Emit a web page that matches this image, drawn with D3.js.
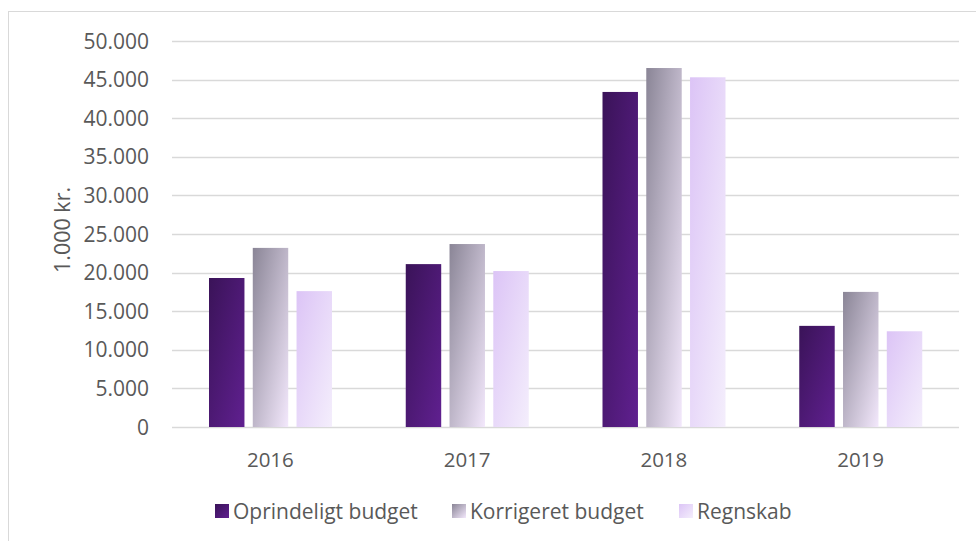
<!DOCTYPE html>
<html><head><meta charset="utf-8">
<script src="https://cdn.jsdelivr.net/npm/d3@7"></script>
<style>body{margin:0;background:#fff;}svg{display:block;}text{font-family:"Open Sans",Lato,sans-serif;fill:#595959;}</style>
</head><body>
<script>
const categories = ["2016","2017","2018","2019"];
const seriesNames = ["Oprindeligt budget","Korrigeret budget","Regnskab"];
const oprindeligt = [19300, 21100, 43400, 13100];
const korrigeret = [23200, 23700, 46500, 17500];
const regnskab = [17600, 20200, 45300, 12400];
const yTicks = [0,5000,10000,15000,20000,25000,30000,35000,40000,45000,50000];

const W=976,H=541;
const svg=d3.select("body").append("svg").attr("width",W).attr("height",H);
const defs=svg.append("defs");
const grads=[["#3a1358","#602090"],["#8a8596","#f3e8fc"],["#dcc4f6","#f4eefc"]];
grads.forEach((g,i)=>{
  const lg=defs.append("linearGradient").attr("id","g"+i).attr("x1","0").attr("y1","0").attr("x2","1").attr("y2","1");
  lg.append("stop").attr("offset","0").attr("stop-color",g[0]);
  lg.append("stop").attr("offset","1").attr("stop-color",g[1]);
});
svg.append("rect").attr("x",8.5).attr("y",11.5).attr("width",980).attr("height",560).attr("fill","none").attr("stroke","#d9d9d9");

const x=d3.scaleBand().domain(categories).range([172,959]);
const y=d3.scaleLinear().domain([0,50000]).range([427,41]);
const x1=d3.scaleBand().domain(seriesNames).range([37,160]).paddingInner(0.19);

svg.append("g").selectAll("line").data(yTicks).join("line")
  .attr("x1",172).attr("x2",959).attr("y1",d=>Math.round(y(d))+0.5).attr("y2",d=>Math.round(y(d))+0.5)
  .attr("stroke","#d9d9d9").attr("stroke-width",1.3);

const fmt=d=>d===0?"0":d3.format(",")(d).replace(/,/g,".");
svg.append("g").selectAll("text").data(yTicks).join("text")
  .attr("x",149).attr("y",d=>y(d)).attr("dy","0.36em").attr("text-anchor","end")
  .attr("font-size",21).text(fmt);

svg.append("g").selectAll("text").data(categories).join("text")
  .attr("x",d=>x(d)+x.bandwidth()/2).attr("y",460).attr("dy","0.36em").attr("text-anchor","middle")
  .attr("font-size",20.5).text(d=>d);

svg.append("text").attr("transform","translate(62,230) rotate(-90)").attr("text-anchor","middle")
  .attr("dy","0.36em").attr("font-size",21.5).text("1.000 kr.");

const data=[oprindeligt,korrigeret,regnskab];
categories.forEach((c,ci)=>{
  seriesNames.forEach((s,si)=>{
    const v=data[si][ci];
    svg.append("rect").attr("x",x(c)+x1(s)).attr("width",x1.bandwidth())
      .attr("y",y(v)).attr("height",y(0)-y(v)).attr("fill","url(#g"+si+")");
  });
});

const legX=[215,452,679];
const leg=svg.append("g");
seriesNames.forEach((s,i)=>{
  leg.append("rect").attr("x",legX[i]).attr("y",504).attr("width",14).attr("height",14).attr("fill","url(#g"+i+")");
  leg.append("text").attr("x",legX[i]+18).attr("y",511).attr("dy","0.36em").attr("font-size",21).text(s);
});
</script>
</body></html>
